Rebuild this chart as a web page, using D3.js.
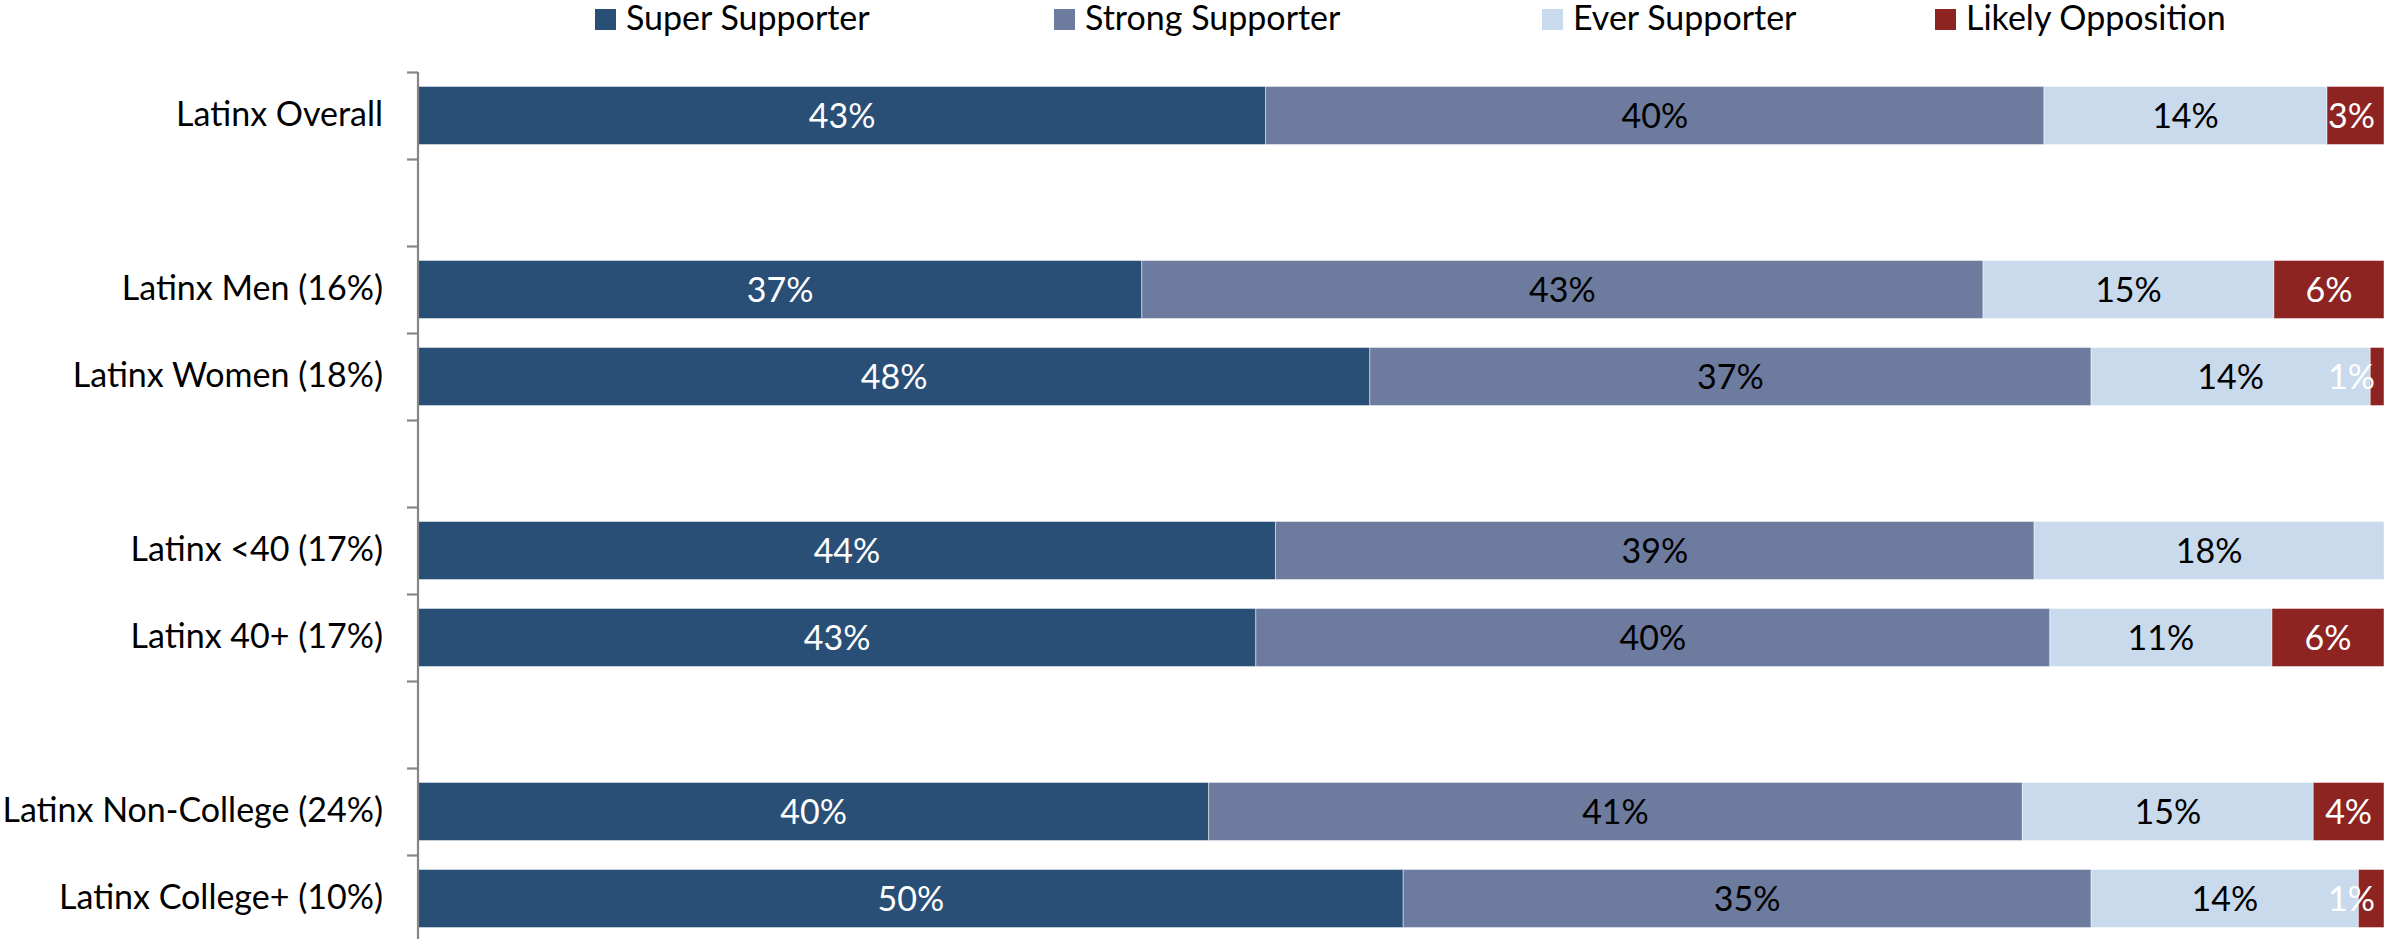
<!DOCTYPE html>
<html>
<head>
<meta charset="utf-8">
<script src="https://cdn.jsdelivr.net/npm/d3@7"></script>
<style>
  html, body { margin: 0; padding: 0; background: #fff; }
  svg { display: block; font-family: Lato, "Open Sans", sans-serif; }
</style>
</head>
<body>
<svg id="chart" width="2384" height="939"></svg>
<script>
// ---- data ----
const categories = ["Latinx Overall", "", "Latinx Men (16%)", "Latinx Women (18%)", "",
  "Latinx <40 (17%)", "Latinx 40+ (17%)", "", "Latinx Non-College (24%)", "Latinx College+ (10%)"];
const seriesNames = ["Super Supporter", "Strong Supporter", "Ever Supporter", "Likely Opposition"];
const superSupporter   = [43.1, null, 36.8, 48.4, null, 43.6, 42.6, null, 40.2, 50.1];
const strongSupporter  = [39.6, null, 42.8, 36.7, null, 38.6, 40.4, null, 41.4, 35.0];
const everSupporter    = [14.4, null, 14.8, 14.2, null, 17.8, 11.3, null, 14.8, 13.6];
const likelyOpposition = [2.9,  null, 5.6,  0.7,  null, 0,    5.7,  null, 3.6,  1.3];
const xDomain = [0, 100];

// ---- style / layout ----
const colors = ["#294f77", "#6d7b9e", "#c9daec", "#8e2422"];
const labelColors = ["#ffffff", "#000000", "#000000", "#ffffff"];
const fontSize = 34;
const plot = { left: 418.5, right: 2384, top: 72, bottom: 942 };
const legendX = [595, 1054, 1542, 1935];

const svg = d3.select("#chart");

const keys = seriesNames;
const rows = categories.map((c, i) => ({
  idx: i, cat: c,
  [keys[0]]: superSupporter[i], [keys[1]]: strongSupporter[i],
  [keys[2]]: everSupporter[i], [keys[3]]: likelyOpposition[i]
}));
const dataRows = rows.filter(r => r[keys[0]] !== null);

const x = d3.scaleLinear().domain(xDomain).range([plot.left, plot.right]);
const y = d3.scaleBand().domain(d3.range(categories.length))
  .range([plot.top, plot.bottom]).paddingInner(0.333).paddingOuter(0.1665);
const yEdge = d3.scaleLinear().domain([0, categories.length]).range([plot.top, plot.bottom]);

const stacked = d3.stack().keys(keys).value((d, k) => d[k] || 0)(dataRows);

// bars
const groups = svg.append("g").selectAll("g").data(stacked).join("g")
  .attr("fill", (d, i) => colors[i]);
groups.selectAll("rect").data(d => d.filter(s => s[1] - s[0] > 0)).join("rect")
  .attr("x", s => x(s[0]))
  .attr("y", s => y(s.data.idx))
  .attr("width", s => x(s[1]) - x(s[0]))
  .attr("height", y.bandwidth())
  .attr("stroke", "#ffffff").attr("stroke-opacity", 0.45).attr("stroke-width", 1);

// data labels
const labelG = svg.append("g").attr("font-size", fontSize);
stacked.forEach((layer, li) => {
  layer.forEach(s => {
    const v = s[1] - s[0];
    if (!(v > 0)) return;
    const t = labelG.append("text")
      .attr("fill", labelColors[li])
      .attr("y", y(s.data.idx) + y.bandwidth() / 2)
      .attr("dy", "0.37em")
      .text(Math.round(v) + "%");
    const w = t.node().getComputedTextLength();
    let cx = (x(s[0]) + x(s[1])) / 2;
    const maxRight = plot.right - 9;
    if (cx + w / 2 > maxRight) cx = maxRight - w / 2;
    t.attr("x", cx).attr("text-anchor", "middle");
  });
});

// axis (ticks between categories)
const axis = d3.axisLeft(yEdge).tickValues(d3.range(categories.length + 1))
  .tickSize(11).tickFormat("");
const axG = svg.append("g").attr("transform", `translate(${plot.left - 0.5},0)`).call(axis);
axG.select(".domain").attr("stroke", "#868686").attr("stroke-width", 2.2)
  .attr("d", `M0,${plot.top}V${plot.bottom}`);
axG.selectAll(".tick line").attr("stroke", "#868686").attr("stroke-width", 2.2);

// category labels
svg.append("g").attr("font-size", fontSize).attr("text-anchor", "end")
  .selectAll("text").data(rows.filter(r => r.cat !== "")).join("text")
  .attr("x", 383)
  .attr("y", r => y(r.idx) + y.bandwidth() / 2)
  .attr("dy", "0.32em")
  .attr("fill", "#000")
  .text(r => r.cat);

// legend
const lg = svg.append("g").attr("font-size", fontSize);
seriesNames.forEach((name, i) => {
  lg.append("rect").attr("x", legendX[i]).attr("y", 9).attr("width", 21).attr("height", 21)
    .attr("fill", colors[i]);
  lg.append("text").attr("x", legendX[i] + 31).attr("y", 30).attr("fill", "#000").text(name);
});
</script>
</body>
</html>
